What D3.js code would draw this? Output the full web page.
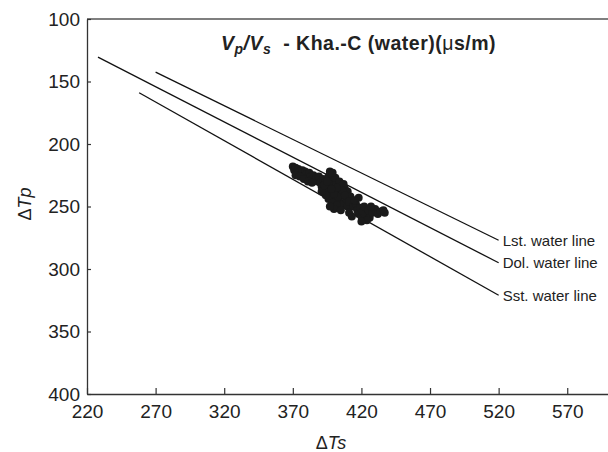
<!DOCTYPE html>
<html><head><meta charset="utf-8">
<script src="https://cdn.jsdelivr.net/npm/d3@7"></script>
<style>body{margin:0;background:#fff}svg{display:block}text{font-family:"Liberation Sans",Arial,sans-serif;fill:#222}</style>
</head><body><svg id="c" width="608" height="452"></svg>
<script>
const xTicks=[220,270,320,370,420,470,520,570];
const yTicks=[100,150,200,250,300,350,400];
const lineNames=["Lst. water line","Dol. water line","Sst. water line"];
const lineStart=[[270,142.5],[228,130.5],[258,159]];
const lineEnd=[[520,277],[520,295],[520,321]];
const ptsX=[370,371,372,373,374,375,376,377,378,379,380,381,382,383,384,385,386,387,388,372,375,378,381,384,
389,390,391,392,393,394,395,396,397,398,399,400,401,402,403,404,405,406,407,408,409,410,396,399,402,394,391,398,401,404,407,410,412,413,400,405,397,393,395,403,406,400,402,398,408,411,397,399,
414,416,417,418,419,420,421,422,423,425,426,428,430,432,434,436,437,424,420,427,415,418,413,411];
const ptsY=[218,221,219,223,220,222,224,221,225,222,224,227,223,226,228,225,229,227,230,225,226,228,230,231,
226,231,234,228,236,230,238,226,233,240,229,236,243,231,238,246,234,241,248,236,244,250,244,247,249,241,238,224,227,230,232,238,242,247,252,253,250,233,230,242,237,240,235,236,241,246,222,223,
250,248,253,256,251,258,254,250,257,253,259,255,252,256,254,253,255,261,262,250,245,243,258,255];

const svg=d3.select("#c");
const x=d3.scaleLinear().domain([220,600]).range([87,608.4]);
const y=d3.scaleLinear().domain([100,400]).range([19,394]);

// frame
svg.append("line").attr("x1",x(220)).attr("x2",608).attr("y1",y(100)).attr("y2",y(100)).attr("stroke","#555").attr("stroke-width",1.3);
const xa=svg.append("g").attr("transform",`translate(0,${y(400)})`).call(d3.axisBottom(x).tickValues(xTicks).tickSizeInner(-6).tickSizeOuter(0).tickPadding(11));
const ya=svg.append("g").attr("transform",`translate(${x(220)},0)`).call(d3.axisLeft(y).tickValues(yTicks).tickSizeInner(-4).tickSizeOuter(0).tickPadding(7));
[xa,ya].forEach(a=>{a.select(".domain").attr("stroke","#333").attr("stroke-width",1.3);a.selectAll(".tick line").attr("stroke","#333").attr("stroke-width",1.2);a.selectAll("text").style("font-size","19px").attr("fill","#222").style("font-family","'Liberation Sans',Arial,sans-serif");});
xa.selectAll(".tick text").attr("dy","0.71em");

// water lines
lineNames.forEach((n,i)=>{
  svg.append("line").attr("x1",x(lineStart[i][0])).attr("y1",y(lineStart[i][1])).attr("x2",x(lineEnd[i][0])).attr("y2",y(lineEnd[i][1])).attr("stroke","#111").attr("stroke-width",1.3);
  svg.append("text").attr("x",x(lineEnd[i][0])+4).attr("y",y(lineEnd[i][1])).attr("dy","0.35em").style("font-size","15px").text(n);
});

// points
svg.append("g").selectAll("circle").data(ptsX.map((v,i)=>[v,ptsY[i]])).join("circle")
  .attr("cx",d=>x(d[0])).attr("cy",d=>y(d[1])).attr("r",4).attr("fill","#1a1a1a");

// title
const t=svg.append("text").attr("x",221).attr("y",50).style("font-size","19.5px").style("font-weight","bold").style("letter-spacing","0.5px");
t.append("tspan").style("font-style","italic").text("V");
t.append("tspan").style("font-style","italic").style("font-size","14px").attr("dy",4).text("p");
t.append("tspan").attr("dy",-4).style("font-style","italic").text("/V");
t.append("tspan").style("font-style","italic").style("font-size","14px").attr("dy",4).text("s");
t.append("tspan").attr("dy",-4).text("\u00a0\u00a0- Kha.-C (water)(");
t.append("tspan").style("font-weight","normal").text("μ");
t.append("tspan").text("s/m)");

// axis titles
const xl=svg.append("text").attr("x",331).attr("y",449).attr("text-anchor","middle").style("font-size","18px");
xl.append("tspan").text("Δ");xl.append("tspan").style("font-style","italic").text("Ts");
const yl=svg.append("text").attr("transform","translate(31,204) rotate(-90)").attr("text-anchor","middle").style("font-size","18px");
yl.append("tspan").text("Δ");yl.append("tspan").style("font-style","italic").text("Tp");
</script></body></html>
